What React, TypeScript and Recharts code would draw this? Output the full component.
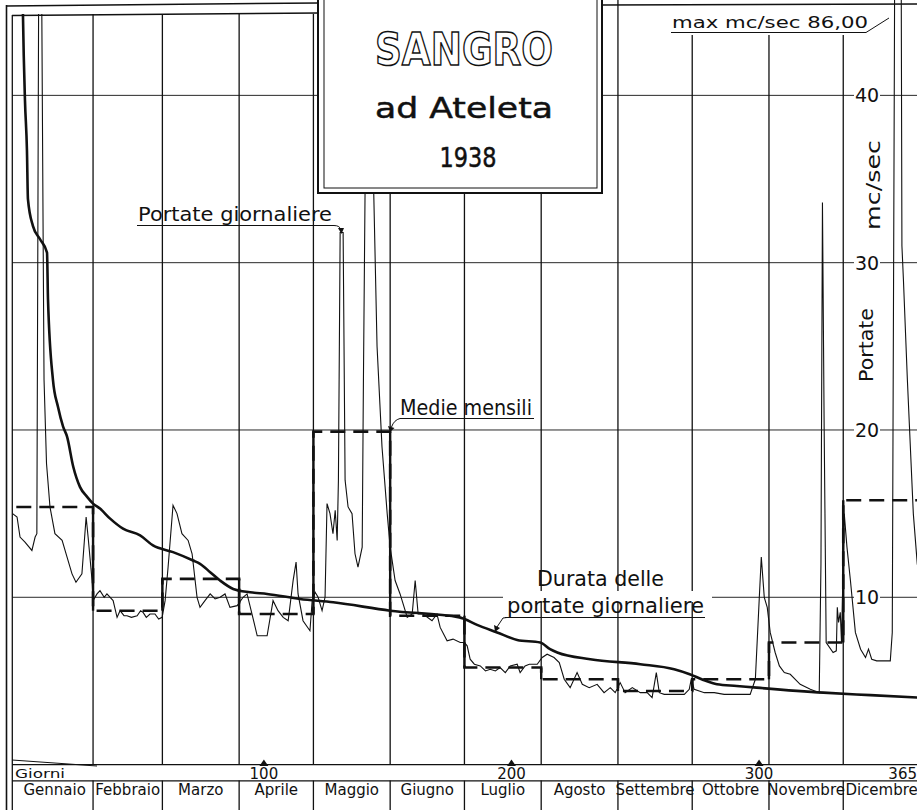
import React from "react";
import { LineChart, Line, XAxis, YAxis, ReferenceLine } from "recharts";

const monthNames = [
  "Gennaio", "Febbraio", "Marzo", "Aprile", "Maggio", "Giugno",
  "Luglio", "Agosto", "Settembre", "Ottobre", "Novembre", "Dicembre",
];
const monthStart = [0, 31, 59, 90, 120, 151, 181, 212, 243, 273, 304, 334];
const monthMean = [15.4, 9.2, 11.1, 9.0, 19.9, 8.9, 5.8, 5.1, 4.4, 5.1, 7.3, 15.8];
const dayTicks = [100, 200, 300, 365];
const flowTicks = [10, 20, 30, 40];

// portate giornaliere (giorno dell'anno, mc/sec)
const dailyDay = [
  -1.5, 0.3, 1.5, 3.5, 6.3, 7.6, 8.3, 9.0, 9.6, 10.3, 10.9, 11.2, 12.2, 13.6, 15.6, 18.5, 20.5, 22.5, 24.1, 26.5, 28.2, 29.0, 30.6, 31.0,
  32.6, 33.8, 35.5, 36.6, 39.1, 40.7, 41.9, 43.5, 44.7, 46.5, 48.8, 50.2, 51.2, 52.5, 54.0, 56.0, 57.5, 58.9,
  60.1, 61.3, 63.3, 64.9, 66.9, 69.4, 71.0, 73.0, 74.2, 76.2, 78.3, 80.3, 82.3, 84.3, 86.3, 89.2,
  91.6, 93.2, 95.2, 97.3, 101.3, 103.7, 105.7, 107.8, 109.8, 111.8, 113.0, 113.8, 115.8, 118.6,
  119.5, 120.7, 121.9, 123.5, 124.7, 125.5, 126.7, 127.9, 128.8, 129.6, 130.1, 130.8, 132.0, 132.8, 134.0, 135.6, 136.8, 138.0, 139.7, 140.2, 141.2, 142.3, 143.3, 144.1, 145.7, 147.7, 149.8, 151.0,
  153.0, 155.0, 157.9, 159.9, 161.1, 162.3, 164.3, 167.9, 169.9, 171.2, 174.0, 176.4, 179.3,
  181.0, 182.1, 183.3, 185.0, 187.4, 189.5, 191.4, 193.5, 195.4, 197.5, 199.5, 202.3, 203.5, 205.5, 207.2, 210.4,
  212.4, 214.4, 217.2, 219.3, 221.3, 223.7, 226.5, 228.6, 231.4, 234.6, 237.4, 239.9, 241.9,
  243.9, 245.9, 248.8, 252.0, 254.8, 256.8, 258.5, 259.7, 261.7, 265.8, 269.8, 271.8,
  272.6, 273.8, 277.9, 281.9, 285.9, 292.4, 296.4, 298.5, 300.1, 300.9, 302.1, 303.3,
  304.5, 306.5, 308.2, 310.2, 312.6, 316.6, 320.7, 324.3, 325.0, 325.6, 326.3, 327.1, 329.9, 331.2, 331.6, 332.1, 332.8, 333.3,
  334.4, 335.5, 336.9, 338.9, 341.0, 343.0, 344.2, 345.5, 347.5, 350.0, 353.0, 353.8, 354.6, 355.4, 356.2, 357.0, 357.7, 358.3, 359.9, 361.1, 362.3, 363.9, 365.0,
];
const dailyQ = [
  15.0, 14.8, 13.6, 13.3, 12.8, 13.6, 13.8, 45, 62, 45, 30, 23, 18, 15.4, 13.8, 13.4, 12.4, 11.4, 10.9, 11.4, 14.8, 13.6, 11.0, 9.8,
  10.2, 10.4, 10.0, 10.2, 9.8, 8.8, 9.2, 8.9, 8.9, 8.8, 8.9, 9.2, 9.1, 8.8, 9.0, 9.0, 8.7, 8.8,
  9.8, 11.8, 15.5, 15.0, 13.8, 13.4, 12.6, 10.0, 9.4, 9.8, 10.2, 9.9, 10.0, 10.2, 9.4, 9.5,
  10.0, 10.2, 9.0, 7.7, 7.7, 9.8, 9.2, 8.8, 8.6, 11.0, 12.1, 10.2, 8.6, 8.0,
  9.8, 10.3, 10.0, 9.2, 10.0, 15.6, 15.0, 13.8, 15.2, 13.4, 17.0, 31.8, 31.8, 17.0, 15.4, 15.0, 12.6, 11.8, 13.0, 23.0, 40.0, 70.0, 55.0, 36.0, 25.0, 19.0, 15.0, 13.0,
  11.0, 10.2, 8.8, 9.0, 11.0, 9.0, 9.0, 8.6, 9.0, 8.2, 7.4, 7.5, 7.3,
  7.3, 7.1, 6.3, 6.0, 5.9, 5.6, 5.7, 5.6, 5.8, 5.5, 5.9, 6.0, 5.5, 5.9, 6.0, 6.0,
  6.4, 6.6, 6.4, 6.1, 5.1, 4.6, 5.5, 4.8, 4.6, 4.8, 4.3, 4.6, 4.3,
  4.9, 4.3, 4.6, 4.3, 4.3, 4.0, 5.5, 4.3, 4.2, 4.2, 4.2, 4.5,
  5.1, 4.5, 4.3, 4.3, 4.2, 4.2, 4.2, 5.1, 10.0, 12.4, 10.0, 9.4,
  7.9, 6.7, 5.9, 5.5, 5.4, 4.8, 4.5, 4.3, 12.0, 33.6, 20.0, 7.3, 6.7, 6.8, 9.4, 8.5, 9.1, 7.3,
  15.0, 13.0, 11.0, 7.9, 6.9, 6.4, 6.9, 6.3, 6.2, 6.2, 6.2, 7.9, 40, 75, 86, 70, 31, 29, 23, 19, 15, 12, 11,
];

// durata delle portate giornaliere
const durDay = [
  0.4, 2.7, 3.5, 4.3, 4.7, 6.7, 9.6, 12.4, 12.8, 14.8, 16.8, 18.9, 20.5, 23.0, 25.7, 28.6, 31.0, 33.8, 37.9, 43.1,
  50.0, 55.2, 63.3, 71.4, 74.2, 78.3, 82.3, 87.6, 94.4, 101.3, 114.6, 128.0, 151.0, 179.0, 181.0, 186.1, 194.2, 202.3,
  211.6, 215.6, 218.5, 231.8, 252.0, 265.7, 272.0, 277.5, 283.0, 291.0, 299.0, 326.0, 345.0, 365.0,
];
const durQ = [
  86, 44.7, 39.7, 36.7, 33.8, 32.2, 31.4, 30.6, 27.8, 23.0, 21.4, 20.2, 19.6, 17.8, 16.6, 16.0, 15.6, 15.3, 14.7, 14.1,
  13.7, 13.1, 12.7, 12.2, 12.0, 11.5, 11.0, 10.5, 10.3, 10.2, 9.9, 9.7, 9.2, 8.8, 8.7, 8.35, 7.9, 7.45,
  7.3, 6.9, 6.7, 6.3, 6.0, 5.7, 5.4, 5.06, 4.8, 4.7, 4.6, 4.3, 4.15, 4.0,
];

const dailyData = dailyDay.map((x, i) => ({ x, q: dailyQ[i] }));
const durData = durDay.map((x, i) => ({ x, q: durQ[i] }));
const meanData = [
  ...monthStart.map((x, i) => ({ x, q: monthMean[i] })),
  { x: 365, q: monthMean[monthMean.length - 1] },
];
const monthEnd = [...monthStart.slice(1), 365];
const monthMid = monthStart.map((s, i) => (s + monthEnd[i]) / 2);
const monthTicks = [...monthStart.slice(1), ...monthMid].sort((a, b) => a - b);

const INK = "#111";
const FONT = "'DejaVu Sans', 'Liberation Sans', sans-serif";

function DayTick(props: any) {
  const { x, y, payload } = props;
  const v = payload.value;
  const last = v === 365;
  return (
    <g>
      {!last && <polygon points={`${x - 4.5},${y + 1.5} ${x + 4.5},${y + 1.5} ${x},${y - 5}`} fill={INK} />}
      <text
        x={last ? x - 3 : x}
        y={y + 14}
        textAnchor={last ? "end" : "middle"}
        fontFamily={FONT}
        fontSize={15}
        fill={INK}
      >
        {v}
      </text>
    </g>
  );
}

function MonthTick(props: any) {
  const { x, y, payload } = props;
  const v = payload.value;
  const b = monthStart.indexOf(v);
  if (b >= 0) {
    return <line x1={x} x2={x} y1={y} y2={y + 30} stroke={INK} strokeWidth={1.3} />;
  }
  const i = monthMid.indexOf(v);
  return (
    <text x={x} y={y + 14.5} textAnchor="middle" fontFamily={FONT} fontSize={15} fill={INK}>
      {monthNames[i]}
    </text>
  );
}

function FlowLabel(props: any) {
  const vb = props.viewBox;
  const cx = vb.x + vb.width - 53;
  return (
    <g>
      <rect x={cx - 13} y={vb.y - 9} width={26} height={18} fill="#fff" />
      <text x={cx} y={vb.y + 7} textAnchor="middle" fontFamily={FONT} fontSize={19} fill={INK}>
        {props.value}
      </text>
    </g>
  );
}

function Overlay() {
  return (
    <svg
      width={917}
      height={810}
      style={{ position: "absolute", left: 0, top: 0, pointerEvents: "none" }}
      fontFamily={FONT}
    >
      {/* margini del foglio */}
      <rect x={12.6} y={0} width={305} height={14} fill="#fff" />
      <rect x={655} y={0} width={232} height={35} fill="#fff" />
      <rect x={503} y={591} width={209} height={11} fill="#fff" />
      <line x1={6} y1={6} x2={318} y2={3} stroke={INK} strokeWidth={1.5} />
      <line x1={12} y1={15.5} x2={318} y2={13} stroke={INK} strokeWidth={1.3} />
      <line x1={602} y1={5} x2={917} y2={4} stroke={INK} strokeWidth={1.3} />
      <line x1={6.5} y1={5} x2={6.5} y2={810} stroke={INK} strokeWidth={1.6} />
      <line x1={12.3} y1={15} x2={12.3} y2={810} stroke={INK} strokeWidth={1.3} />

      {/* cartiglio */}
      <rect x={318} y={-10} width={284} height={203} fill="#fff" stroke={INK} strokeWidth={2} />
      <rect x={324} y={-10} width={273} height={198} fill="none" stroke={INK} strokeWidth={1} />
      <text x={464} y={65} textAnchor="middle" fontSize={44} fontWeight="bold" fill="#fff" stroke={INK} strokeWidth={1.5} textLength={178} lengthAdjust="spacingAndGlyphs">
        SANGRO
      </text>
      <text x={464} y={118} textAnchor="middle" fontSize={29} fill={INK} stroke={INK} strokeWidth={0.5} textLength={178} lengthAdjust="spacingAndGlyphs">
        ad Ateleta
      </text>
      <text x={468} y={167} textAnchor="middle" fontSize={27} fill={INK} stroke={INK} strokeWidth={0.5} textLength={57} lengthAdjust="spacingAndGlyphs">
        1938
      </text>

      {/* didascalie */}
      <text x={138} y={221} fontSize={20} fill={INK} textLength={194} lengthAdjust="spacingAndGlyphs">
        Portate giornaliere
      </text>
      <path d="M137 225.5 H334 Q340 225.5 341 230" fill="none" stroke={INK} strokeWidth={1} />
      <polygon points="338,228 344,228 341.5,234" fill={INK} />

      <text x={400} y={415} fontSize={22} fill={INK} textLength={132} lengthAdjust="spacingAndGlyphs">
        Medie mensili
      </text>
      <path d="M400 418.5 H534 M400 418.5 Q394 420 391.5 427" fill="none" stroke={INK} strokeWidth={1} />
      <polygon points="388,426 394.5,428 390,432" fill={INK} />

      <text x={537} y={586} fontSize={21} fill={INK} textLength={127} lengthAdjust="spacingAndGlyphs">
        Durata delle
      </text>
      <text x={507} y={613} fontSize={21} fill={INK} textLength={197} lengthAdjust="spacingAndGlyphs">
        portate giornaliere
      </text>
      <path d="M505 617.5 H705 M507 617.5 L503 618 L497 627" fill="none" stroke={INK} strokeWidth={1} />
      <polygon points="494,625 500,628 495,632" fill={INK} />

      <text x={672} y={28} fontSize={15} fill={INK} textLength={196} lengthAdjust="spacingAndGlyphs">
        max mc/sec 86,00
      </text>
      <path d="M671 32.5 H866 L889 18" fill="none" stroke={INK} strokeWidth={1} />

      <text transform="rotate(-90 880 185)" x={880} y={185} textAnchor="middle" fontSize={20} fill={INK} textLength={90} lengthAdjust="spacingAndGlyphs">
        mc/sec
      </text>
      <text transform="rotate(-90 873 345)" x={873} y={345} textAnchor="middle" fontSize={20} fill={INK} textLength={74} lengthAdjust="spacingAndGlyphs">
        Portate
      </text>

      {/* righe in basso */}
      <rect x={13} y={766} width={75} height={14} fill="#fff" />
      <line x1={12} y1={760} x2={97} y2={766} stroke={INK} strokeWidth={1} />
      <text x={15} y={778} fontSize={12} fill={INK} textLength={50} lengthAdjust="spacingAndGlyphs">
        Giorni
      </text>
      <line x1={12} y1={780.8} x2={917} y2={780.8} stroke={INK} strokeWidth={1.2} />
    </svg>
  );
}

export default function App() {
  return (
    <div
      style={{
        position: "absolute",
        left: 0,
        top: 0,
        width: 917,
        height: 810,
        overflow: "hidden",
        background: "#fff",
      }}
    >
      <LineChart width={920} height={810} margin={{ top: 0, right: 0, bottom: 0, left: 12 }}>
        <XAxis
          xAxisId="d"
          type="number"
          dataKey="x"
          domain={[-1.74, 365]}
          allowDataOverflow
          ticks={dayTicks}
          interval={0}
          tickSize={0}
          tickMargin={0}
          axisLine={false}
          tickLine={false}
          height={16}
          tick={(p: any) => <DayTick {...p} />}
        />
        <XAxis
          xAxisId="m"
          type="number"
          dataKey="x"
          domain={[-1.74, 365]}
          allowDataOverflow
          ticks={monthTicks}
          interval={0}
          tickSize={0}
          tickMargin={0}
          axisLine={false}
          tickLine={false}
          height={29.4}
          tick={(p: any) => <MonthTick {...p} />}
        />
        <YAxis yAxisId="q" type="number" domain={[0, 45.7]} allowDataOverflow hide />

        {flowTicks.map((v) => (
          <ReferenceLine
            key={`h${v}`}
            xAxisId="d"
            yAxisId="q"
            y={v}
            stroke={INK}
            strokeWidth={0.9}
            label={{ value: v, content: (p: any) => <FlowLabel {...p} value={v} /> }}
          />
        ))}
        {monthStart.slice(1).map((m) => (
          <ReferenceLine key={`v${m}`} xAxisId="d" yAxisId="q" x={m} stroke={INK} strokeWidth={1.3} />
        ))}
        {/* tratti verticali pieni delle medie mensili */}
        {monthStart.slice(1).map((m, i) => (
          <ReferenceLine
            key={`s${m}`}
            xAxisId="d"
            yAxisId="q"
            segment={[
              { x: m, y: monthMean[i] },
              { x: m, y: monthMean[i + 1] },
            ]}
            stroke={INK}
            strokeWidth={2.4}
          />
        ))}
        <ReferenceLine xAxisId="d" yAxisId="q" y={0} stroke={INK} strokeWidth={1.3} />

        <Line
          xAxisId="d"
          yAxisId="q"
          data={dailyData}
          dataKey="q"
          type="linear"
          stroke={INK}
          strokeWidth={1.1}
          dot={false}
          activeDot={false}
          isAnimationActive={false}
        />
        <Line
          xAxisId="d"
          yAxisId="q"
          data={meanData}
          dataKey="q"
          type="stepAfter"
          stroke={INK}
          strokeWidth={2.6}
          strokeDasharray="15 8"
          dot={false}
          activeDot={false}
          isAnimationActive={false}
        />
        <Line
          xAxisId="d"
          yAxisId="q"
          data={durData}
          dataKey="q"
          type="monotone"
          stroke={INK}
          strokeWidth={2.6}
          dot={false}
          activeDot={false}
          isAnimationActive={false}
        />
      </LineChart>
      <Overlay />
    </div>
  );
}
